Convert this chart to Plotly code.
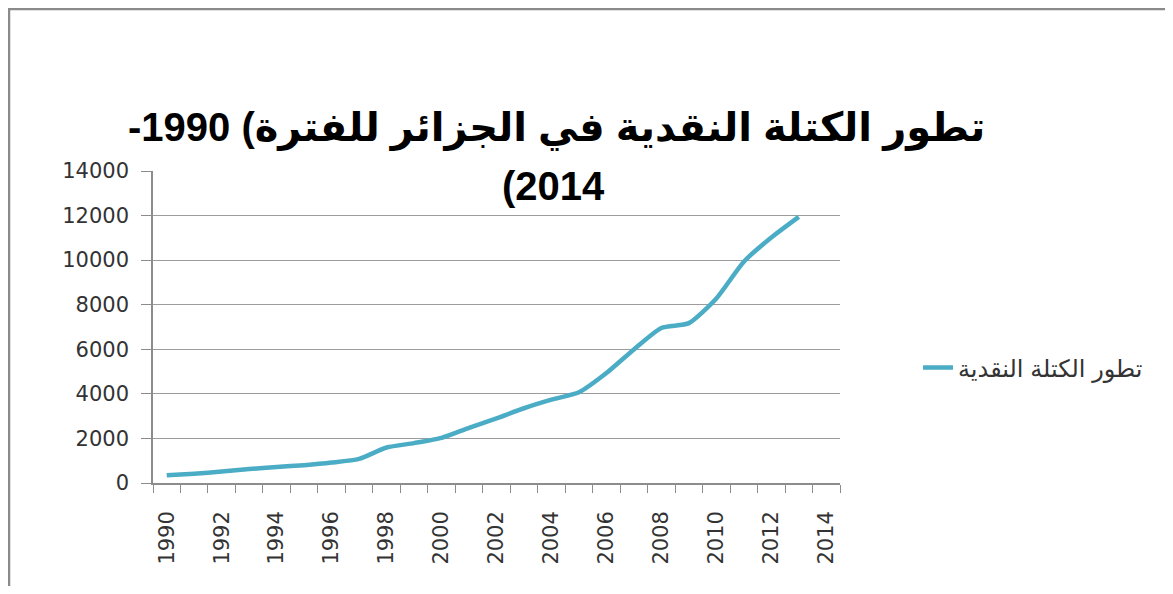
import plotly.graph_objects as go

# ---- data ----
categories = [str(y) for y in range(1990, 2015)]
years = [str(y) for y in range(1990, 2014)]
money_supply = [343, 415, 515, 627, 723, 800, 915, 1081, 1592, 1789,
                2022, 2473, 2901, 3354, 3738, 4070, 4933, 5994, 6956, 7173,
                8280, 9929, 11015, 11941]
tick_text = [c if int(c) % 2 == 0 else "" for c in categories]
y_ticks = list(range(0, 14001, 2000))
y_tick_text = [str(v) for v in y_ticks]
series_name = "تطور الكتلة النقدية"
# title, as it appears on screen (line 1 and line 2)
title_arabic = "تطور الكتلة النقدية في الجزائر للفترة"
title_line1 = "-1990 (" + title_arabic
title_line2 = "(2014"

# page offset of the figure (body margin)
OFF = 8
W, H = 1173 - 2 * OFF, 594 - 2 * OFF
L = 153 - OFF
T = 171 - OFF
R = W - (840 - OFF)
B = H - (483 - OFF)
pw, ph = W - L - R, H - T - B


def px_x(p):  # page x -> paper x
    return (p - OFF - L) / pw


def px_y(p):  # page y -> paper y
    return (H - B - (p - OFF)) / ph


fig = go.Figure()
fig.add_trace(go.Scatter(
    x=years, y=money_supply, mode="lines", name=series_name,
    line=dict(color="#4bacc6", width=4.5, shape="spline", smoothing=0.6),
))

font_family = "Liberation Sans, Arial, DejaVu Sans, sans-serif"
tick_font = dict(family="DejaVu Sans, Liberation Sans, sans-serif", size=21, color="#333333")
title_font = dict(family=font_family, size=40, color="black", weight="bold")

fig.update_layout(
    width=W, height=H,
    margin=dict(l=L, r=R, t=T, b=B, autoexpand=False),
    paper_bgcolor="white", plot_bgcolor="white",
    showlegend=True,
    legend=dict(
        x=px_x(918), y=px_y(368), xanchor="left", yanchor="middle",
        font=dict(family=font_family, size=24, color="#333333"),
        bgcolor="rgba(0,0,0,0)",
    ),
    xaxis=dict(
        type="category", categoryorder="array", categoryarray=categories,
        range=[-0.5, len(categories) - 0.5],
        tickmode="array", tickvals=categories, ticktext=tick_text,
        tickson="boundaries", ticks="outside", ticklen=8, tickcolor="#8c8c8c",
        tickangle=-90, tickfont=tick_font, ticklabelstandoff=18,
        showline=True, linecolor="#8c8c8c", linewidth=1.5,
        showgrid=False, zeroline=False, fixedrange=True,
    ),
    yaxis=dict(
        range=[0, 14000], tickmode="array", tickvals=y_ticks, ticktext=y_tick_text,
        ticks="outside", ticklen=10, tickcolor="#8c8c8c",
        tickfont=tick_font, ticklabelstandoff=8,
        showline=True, linecolor="#8c8c8c", linewidth=1.5,
        showgrid=True, gridcolor="#9c9c9c", gridwidth=1.2,
        zeroline=False, fixedrange=True,
    ),
    annotations=[
        dict(text=title_line1, xref="paper", yref="paper",
             x=px_x(556), y=px_y(128), xanchor="center", yanchor="middle",
             showarrow=False, font=title_font),
        dict(text=title_line2, xref="paper", yref="paper",
             x=px_x(553), y=px_y(186), xanchor="center", yanchor="middle",
             showarrow=False, font=title_font),
    ],
    shapes=[
        dict(type="rect", xref="paper", yref="paper",
             x0=px_x(OFF + 1), x1=px_x(1200), y0=px_y(640), y1=px_y(OFF + 1),
             line=dict(color="#8a8a8a", width=2.5), layer="below"),
    ],
)

fig.write_html("out.html")
